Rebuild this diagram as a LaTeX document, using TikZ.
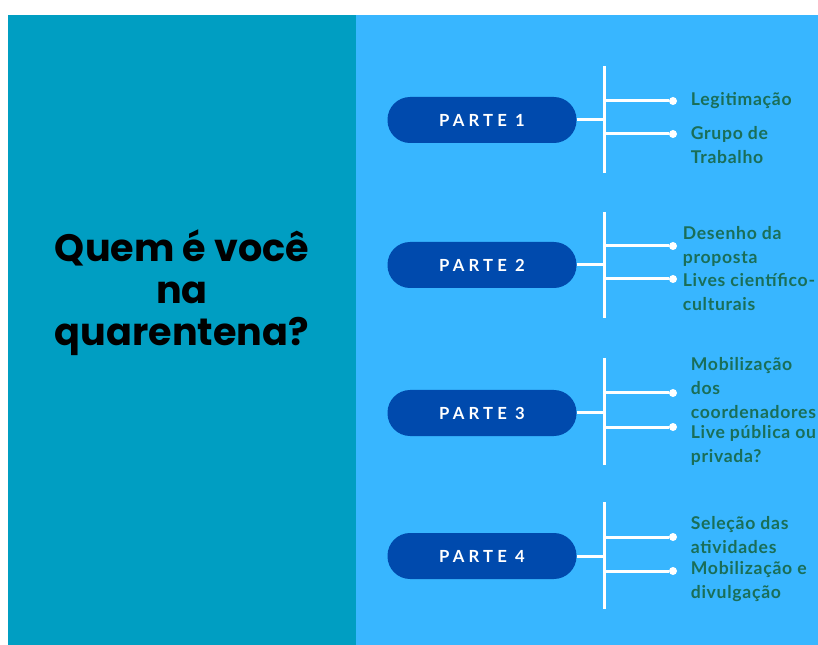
\documentclass[tikz,border=0pt]{standalone}
\usepackage{fontspec}
\setmainfont{Lato}
\newfontfamily\titlefont{Poppins}
\newfontfamily\pillfont[LetterSpace=25]{Lato}
\newfontfamily\leaffont[LetterSpace=4]{Lato}
\usetikzlibrary{positioning}
\definecolor{panelLeft}{RGB}{0,158,194}
\definecolor{panelRight}{RGB}{56,182,255}
\definecolor{pillBlue}{RGB}{0,74,173}
\definecolor{leafGreen}{RGB}{26,110,88}

\begin{document}
\begin{tikzpicture}[x=0.75pt,y=-0.75pt,
  pill/.style={fill=pillBlue, rounded corners=17pt, minimum width=141.75pt, minimum height=34.5pt, text=white, font=\pillfont\bfseries\fontsize{12.5}{15}\selectfont},
  dot/.style={circle, fill=white, inner sep=0pt, minimum size=6pt},
  leaf/.style={align=left, text=leafGreen, inner sep=0pt, font=\leaffont\bfseries\fontsize{13.2}{18}\selectfont},
  bar/.style={draw=white, line width=2.25pt}]
%% background panels
\useasboundingbox (0,0) rectangle (818,645);
\fill[white] (0,0) rectangle (818,645);
\fill[panelLeft] (8,15) rectangle (356,645);
\fill[panelRight] (356,15) rectangle (818,645);
%the title
\node[font=\titlefont\bfseries\fontsize{28.6}{31.5}\selectfont, align=center] (title) at (182,293) {Quem é você\\na\\quarentena?};
%the nodes
\node[pill] (partOne) at (482,120) {PARTE 1};
\node[pill] (partTwo) at (482,265) {PARTE 2};
\node[pill] (partThree) at (482,413) {PARTE 3};
\node[pill] (partFour) at (482,556) {PARTE 4};

\coordinate (partOneBar) at (604,120);
\coordinate (partOneTop) at (604,66);
\coordinate (partOneBottom) at (604,173);
\coordinate (partTwoBar) at (604,265);
\coordinate (partTwoTop) at (604,212);
\coordinate (partTwoBottom) at (604,318);
\coordinate (partThreeBar) at (604,413);
\coordinate (partThreeTop) at (604,358);
\coordinate (partThreeBottom) at (604,465);
\coordinate (partFourBar) at (604,556);
\coordinate (partFourTop) at (604,502);
\coordinate (partFourBottom) at (604,609);

\node[dot] (partOneDotA) at (673,101) {};
\node[dot] (partOneDotB) at (673,134) {};
\node[dot] (partTwoDotA) at (673,246) {};
\node[dot] (partTwoDotB) at (673,279) {};
\node[dot] (partThreeDotA) at (673,393) {};
\node[dot] (partThreeDotB) at (673,427) {};
\node[dot] (partFourDotA) at (673,537) {};
\node[dot] (partFourDotB) at (673,571) {};

\node[leaf, right=10pt of partOneDotA] (legit) {Legitimação};
\node[leaf, right=10pt of partOneDotB, yshift=-8.25pt] (grupo) {Grupo de\\Trabalho};
\node[leaf, right=4pt of partTwoDotA] (desenho) {Desenho da\\proposta};
\node[leaf, right=4pt of partTwoDotB, yshift=-9.4pt] (lives) {Lives científico-\\culturais};
\node[leaf, right=10pt of partThreeDotA, yshift=3.75pt] (mobCoord) {Mobilização\\dos\\coordenadores};
\node[leaf, right=10pt of partThreeDotB, yshift=-13.9pt] (livePub) {Live pública ou\\privada?};
\node[leaf, right=10pt of partFourDotA, yshift=1.5pt] (selecao) {Seleção das\\atividades};
\node[leaf, right=10pt of partFourDotB, yshift=-8.25pt] (mobDiv) {Mobilização e\\divulgação};
%drawings of lines
\draw[bar] (partOne.east) -- (partOneBar);
\draw[bar] (partOneTop) -- (partOneBottom);
\draw[bar] (partOneDotA -| partOneBar) -- (partOneDotA);
\draw[bar] (partOneDotB -| partOneBar) -- (partOneDotB);

\draw[bar] (partTwo.east) -- (partTwoBar);
\draw[bar] (partTwoTop) -- (partTwoBottom);
\draw[bar] (partTwoDotA -| partTwoBar) -- (partTwoDotA);
\draw[bar] (partTwoDotB -| partTwoBar) -- (partTwoDotB);

\draw[bar] (partThree.east) -- (partThreeBar);
\draw[bar] (partThreeTop) -- (partThreeBottom);
\draw[bar] (partThreeDotA -| partThreeBar) -- (partThreeDotA);
\draw[bar] (partThreeDotB -| partThreeBar) -- (partThreeDotB);

\draw[bar] (partFour.east) -- (partFourBar);
\draw[bar] (partFourTop) -- (partFourBottom);
\draw[bar] (partFourDotA -| partFourBar) -- (partFourDotA);
\draw[bar] (partFourDotB -| partFourBar) -- (partFourDotB);

\end{tikzpicture}
\end{document}
